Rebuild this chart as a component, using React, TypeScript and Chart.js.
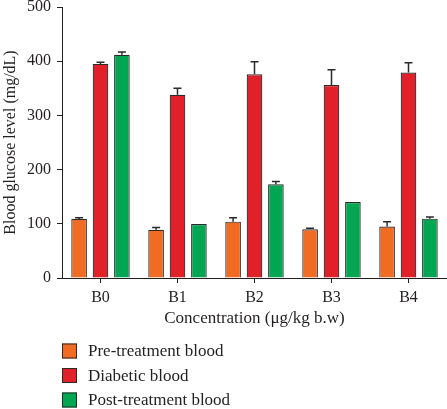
import React, { useEffect, useRef } from "react";
import { Chart, registerables } from "chart.js";

Chart.register(...registerables);

const categories = ["B0", "B1", "B2", "B3", "B4"];
const seriesNames = ["Pre-treatment blood", "Diabetic blood", "Post-treatment blood"];
const preTreatment = [109, 89, 104, 90, 95];
const preTreatmentErr = [2, 4, 7, 2, 9];
const diabetic = [395, 338, 376, 356, 379];
const diabeticErr = [3, 12, 23, 28, 18];
const postTreatment = [412, 99.5, 173, 140, 109.5];
const postTreatmentErr = [5, 0, 5, 0, 3];
const seriesColors = ["#F26B23", "#E2202A", "#00A651"];
const yTicks = [0, 100, 200, 300, 400, 500];

const FONT = "'Liberation Serif', 'Times New Roman', serif";
const TEXT = "#231f20";

export default function App() {
  const ref = useRef<HTMLCanvasElement | null>(null);

  useEffect(() => {
    document.body.style.margin = "0";
    const canvas = ref.current;
    if (!canvas) return;
    const errors = [preTreatmentErr, diabeticErr, postTreatmentErr];

    const errorBars = {
      id: "errorBars",
      afterDatasetsDraw(chart: any) {
        const ctx = chart.ctx;
        const y = chart.scales.y;
        ctx.save();
        ctx.strokeStyle = "#2a2a2a";
        ctx.lineWidth = 1.5;
        chart.data.datasets.forEach((ds: any, i: number) => {
          const meta = chart.getDatasetMeta(i);
          meta.data.forEach((bar: any, j: number) => {
            const e = errors[i][j];
            if (!e) return;
            const v = ds.data[j];
            const top = y.getPixelForValue(v + e);
            const base = y.getPixelForValue(v);
            ctx.beginPath();
            ctx.moveTo(bar.x, base);
            ctx.lineTo(bar.x, top);
            ctx.moveTo(bar.x - 4, top);
            ctx.lineTo(bar.x + 4, top);
            ctx.stroke();
          });
        });
        ctx.restore();
      },
    };

    const legendPlugin = {
      id: "stackedLegend",
      afterDraw(chart: any) {
        const ctx = chart.ctx;
        ctx.save();
        ctx.font = `17px ${FONT}`;
        ctx.textBaseline = "middle";
        ctx.textAlign = "left";
        chart.data.datasets.forEach((ds: any, i: number) => {
          const cy = 351 + i * 24.5;
          ctx.fillStyle = ds.backgroundColor;
          ctx.fillRect(62, cy - 7.5, 15, 15);
          ctx.strokeStyle = "#2a2a2a";
          ctx.lineWidth = 1;
          ctx.strokeRect(62.5, cy - 7, 14, 14);
          ctx.fillStyle = TEXT;
          ctx.fillText(ds.label, 88, cy + 1);
        });
        ctx.restore();
      },
    };

    const chart = new Chart(canvas, {
      type: "bar",
      data: {
        labels: categories,
        datasets: [preTreatment, diabetic, postTreatment].map((d, i) => ({
          label: seriesNames[i],
          data: d,
          backgroundColor: seriesColors[i],
          borderColor: "#2a2a2a",
          borderWidth: 1.2,
          categoryPercentage: 0.834,
          barPercentage: 0.73,
        })),
      },
      options: {
        animation: false,
        responsive: false,
        layout: { padding: { left: 2, right: 0, top: 0, bottom: 81 } },
        plugins: { legend: { display: false }, tooltip: { enabled: false } },
        scales: {
          x: {
            offset: true,
            grid: { display: true, drawOnChartArea: false, drawTicks: true, tickLength: 5, offset: false, color: TEXT },
            border: { display: true, color: TEXT, width: 1 },
            ticks: { color: TEXT, font: { family: FONT, size: 16 }, padding: 5 },
            title: {
              display: true,
              text: "Concentration (μg/kg b.w)",
              color: TEXT,
              font: { family: FONT, size: 17, lineHeight: 1.1 },
              padding: 0,
            },
            afterFit(s: any) {
              s.height = 50;
              s.paddingLeft = 0;
              s.paddingRight = 0;
            },
          },
          y: {
            min: 0,
            max: 500,
            afterBuildTicks(s: any) {
              s.ticks = yTicks.map((v) => ({ value: v }));
            },
            grid: { display: true, drawOnChartArea: false, drawTicks: true, tickLength: 5, color: TEXT },
            border: { display: true, color: TEXT, width: 1 },
            ticks: { color: TEXT, font: { family: FONT, size: 16 }, padding: 6 },
            title: {
              display: true,
              text: "Blood glucose level (mg/dL)",
              color: TEXT,
              font: { family: FONT, size: 16, lineHeight: 1.1 },
              padding: 0,
            },
            afterFit(s: any) {
              s.width = 60;
              s.paddingTop = 7;
              s.paddingBottom = 0;
            },
          },
        },
      },
      plugins: [errorBars, legendPlugin],
    });
    return () => chart.destroy();
  }, []);

  return (
    <div style={{ width: 447, height: 409, background: "#fff" }}>
      <canvas ref={ref} width={447} height={409} />
    </div>
  );
}
